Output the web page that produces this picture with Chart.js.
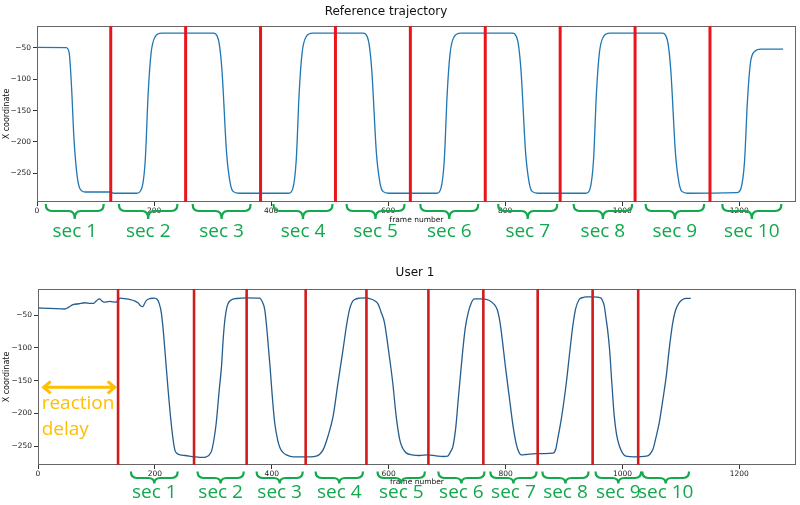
<!DOCTYPE html>
<html lang="en">
<head>
<meta charset="UTF-8">
<title>Reference trajectory / User 1</title>
<script src="https://cdn.jsdelivr.net/npm/chart.js"></script>
<style>
  body { margin: 0; background: #fff; }
  #wrap { position: relative; width: 800px; height: 505px; overflow: hidden; }
  #wrap canvas { position: absolute; left: 0; }
  #refChart { top: 0; }
  #userChart { top: 250px; }
</style>
</head>
<body>
<div id="wrap">
  <canvas id="refChart" width="800" height="250"></canvas>
  <canvas id="userChart" width="800" height="255"></canvas>
</div>
<script>
// axis ticks
const xTicks = [0, 200, 400, 600, 800, 1000, 1200];
const yTicks = [-50, -100, -150, -200, -250];

// reference trajectory (frame number, x coordinate)
const refFrames = [0, 50, 55, 59, 63, 68, 73, 82, 126, 130, 170, 179, 185, 190, 195, 202, 213,
  301, 310, 316, 324, 330, 335, 345, 430, 437, 443, 448, 453, 460, 471,
  557, 566, 572, 580, 586, 591, 601, 683, 690, 696, 701, 706, 713, 724,
  812, 821, 827, 835, 841, 846, 856, 938, 945, 951, 956, 961, 968, 979,
  1068, 1077, 1083, 1091, 1097, 1102, 1112, 1196, 1203, 1209, 1214, 1219, 1226, 1237, 1275];
const refX = [-49, -49.5, -58, -112, -192, -250, -274, -280, -280, -282, -282, -274, -229, -122, -58, -32, -26.5,
  -26.5, -37, -85, -218, -265, -279, -282, -282, -275, -229, -122, -58, -32, -26.5,
  -26.5, -37, -85, -218, -265, -279, -282, -282, -275, -229, -122, -58, -32, -26.5,
  -26.5, -37, -85, -218, -265, -279, -282, -282, -275, -229, -122, -58, -32, -26.5,
  -26.5, -37, -85, -218, -265, -279, -282, -281, -274, -232, -135, -75, -56, -52, -52];

// user 1 trajectory
const userFrames = [0, 20, 46, 52, 60, 70, 80, 90, 95, 100, 105, 109, 113, 123, 133, 137, 140, 150, 157, 165,
  171, 176, 179, 183, 186, 192, 199, 204, 207, 211, 214, 217, 223, 229, 234, 238, 243, 252, 268, 282,
  288, 293, 297, 301, 305, 310, 314, 317, 320, 324, 330, 340, 357, 379, 384, 388, 392, 397, 401, 405,
  410, 414, 420, 425, 437, 448, 466, 476, 482, 488, 496, 505, 513, 522, 528, 533, 537, 542, 550, 562,
  572, 578, 582, 587, 593, 600, 607, 613, 619, 624, 630, 640, 653, 667, 681, 694, 701, 706, 710, 715,
  719, 723, 727, 731, 736, 741, 747, 757, 767, 775, 781, 786, 790, 793, 800, 807, 813, 818, 822, 827,
  835, 852, 866, 881, 886, 889, 896, 904, 910, 915, 920, 926, 932, 938, 950, 963, 966, 969, 972, 975,
  978, 982, 986, 990, 995, 1000, 1006, 1020, 1041, 1047, 1052, 1057, 1063, 1069, 1075, 1080, 1086, 1091, 1097, 1103,
  1109, 1117];
const userX = [-39, -39.5, -40.5, -38, -34, -32.5, -31, -32, -32, -28, -25, -28, -30, -29, -30, -28, -24, -25, -26, -28,
  -31, -36, -37, -31, -27, -24.5, -24, -26, -31, -46, -70, -102, -168, -224, -255, -261, -263, -264, -266, -267,
  -266, -263, -257, -240, -214, -165, -128, -85, -55, -35, -27, -24.5, -23.6, -24, -30, -41.5, -75, -128, -175, -214,
  -240, -252, -260, -263, -266, -266, -266, -265, -262, -255, -235, -204, -155, -102, -65, -41.5, -31, -26, -24, -23.6,
  -26, -29, -33, -45, -62, -105, -153, -205, -240, -253, -260, -263, -264, -263, -264.5, -265.5, -265, -258, -250, -220,
  -179, -140, -102, -70, -46.5, -32, -25, -25, -26, -29, -34, -42, -58, -77, -130, -179, -220, -245, -257, -263,
  -262.5, -261, -261, -260.5, -254, -240, -205, -153, -105, -67, -40, -26, -23, -22, -22, -23.6, -28, -36, -55, -75,
  -102, -155, -204, -232, -250, -260, -265, -266, -265, -262, -255, -238, -214, -180, -143, -102, -62, -42, -31, -26,
  -24.3, -24.3];

// section boundaries (red lines) and brace spans, in frames
const refSplits = [126, 254, 382, 510, 638, 766, 894, 1022, 1150];
const userSplits = [137, 267, 357, 458, 562, 668, 762, 855, 949, 1027];
const secLabels = ['sec 1', 'sec 2', 'sec 3', 'sec 4', 'sec 5', 'sec 6', 'sec 7', 'sec 8', 'sec 9', 'sec 10'];
const refSecSpans = [[15, 114], [140, 240], [266, 365], [404, 505], [529, 628], [655, 754], [788, 889], [917, 1017], [1040, 1140], [1171, 1272]];
const userSecSpans = [[159, 239], [273, 352], [374, 453], [475, 556], [581, 662], [685, 764], [774, 853], [863, 942], [954, 1032], [1034, 1114]];
const delaySpan = [8, 133];
const delayLevel = -160;

const GREEN = '#12a84c';
const ORANGE = '#ffbf00';
const TICK_FONT = { family: 'DejaVu Sans', size: 7.5 };

function drawBrace(ctx, x1, x2, yTop, yMid, yTip) {
  const xm = (x1 + x2) / 2, r = 6;
  ctx.beginPath();
  ctx.moveTo(x1, yTop);
  ctx.quadraticCurveTo(x1, yMid, x1 + r, yMid);
  ctx.lineTo(xm - r, yMid);
  ctx.quadraticCurveTo(xm, yMid, xm, yTip);
  ctx.quadraticCurveTo(xm, yMid, xm + r, yMid);
  ctx.lineTo(x2 - r, yMid);
  ctx.quadraticCurveTo(x2, yMid, x2, yTop);
  ctx.stroke();
}

function overlay(o) {
  return {
    id: 'overlay',
    afterDatasetsDraw(chart) {
      const { ctx, chartArea: a, scales: { x } } = chart;
      ctx.save();
      ctx.strokeStyle = '#666';
      ctx.lineWidth = 1;
      ctx.strokeRect(a.left + 0.5, a.top + 0.5, a.right - a.left - 1, a.bottom - a.top - 1);
      ctx.strokeStyle = o.red;
      ctx.lineWidth = o.redWidth;
      o.splits.forEach(f => {
        const px = x.getPixelForValue(f);
        ctx.beginPath();
        ctx.moveTo(px, a.top);
        ctx.lineTo(px, a.bottom);
        ctx.stroke();
      });
      ctx.restore();
    },
    afterDraw(chart) {
      const { ctx, scales: { x, y } } = chart;
      ctx.save();
      ctx.fillStyle = '#111';
      ctx.font = '12px "DejaVu Sans"';
      ctx.textAlign = 'center';
      ctx.textBaseline = 'middle';
      ctx.fillText(o.title, o.titleX, o.titleY);

      ctx.strokeStyle = GREEN;
      ctx.fillStyle = GREEN;
      ctx.lineWidth = 2.2;
      ctx.font = '19px "Open Sans"';
      ctx.textBaseline = 'alphabetic';
      o.spans.forEach((s, i) => {
        const x1 = x.getPixelForValue(s[0]), x2 = x.getPixelForValue(s[1]);
        drawBrace(ctx, x1, x2, o.brace[0], o.brace[1], o.brace[2]);
        ctx.fillText(secLabels[i], (x1 + x2) / 2, o.textBase);
      });

      if (o.delay) {
        const x1 = x.getPixelForValue(delaySpan[0]), x2 = x.getPixelForValue(delaySpan[1]);
        const yy = y.getPixelForValue(delayLevel);
        ctx.strokeStyle = ORANGE;
        ctx.fillStyle = ORANGE;
        ctx.lineWidth = 3;
        ctx.beginPath();
        ctx.moveTo(x1, yy); ctx.lineTo(x2, yy);
        ctx.moveTo(x1 + 8, yy - 6); ctx.lineTo(x1 + 1, yy); ctx.lineTo(x1 + 8, yy + 6);
        ctx.moveTo(x2 - 8, yy - 6); ctx.lineTo(x2 - 1, yy); ctx.lineTo(x2 - 8, yy + 6);
        ctx.stroke();
        ctx.textAlign = 'left';
        ctx.fillText('reaction', x1 - 1, yy + 22);
        ctx.fillText('delay', x1 - 1, yy + 48);
      }
      ctx.restore();
    }
  };
}

function makeChart(id, frames, values, o) {
  return new Chart(document.getElementById(id), {
    type: 'line',
    data: {
      datasets: [{
        data: frames.map((f, i) => ({ x: f, y: values[i] })),
        borderColor: o.lineColor,
        borderWidth: 1.3,
        pointRadius: 0,
        fill: false,
        cubicInterpolationMode: 'monotone'
      }]
    },
    options: {
      responsive: false,
      animation: false,
      layout: { padding: { top: o.padTop, right: 4, bottom: 0, left: 0 } },
      plugins: { legend: { display: false }, title: { display: false }, tooltip: { enabled: false } },
      scales: {
        x: {
          type: 'linear', min: 0, max: 1297,
          afterBuildTicks: s => { s.ticks = xTicks.map(v => ({ value: v })); },
          afterFit: s => { s.height = o.xHeight; },
          grid: { drawOnChartArea: false, tickLength: 4, color: '#333' },
          border: { display: false },
          ticks: { font: TICK_FONT, color: '#222', padding: 1, maxRotation: 0, autoSkip: false, callback: v => String(v) },
          title: { display: true, text: 'frame number', color: '#111', font: { family: 'DejaVu Sans', size: 7.5 }, padding: { top: 0, bottom: o.xTitlePad } }
        },
        y: {
          min: o.yMin, max: o.yMax,
          afterBuildTicks: s => { s.ticks = yTicks.map(v => ({ value: v })); },
          afterFit: s => { s.width = o.yWidth; },
          grid: { drawOnChartArea: false, tickLength: 4, color: '#333' },
          border: { display: false },
          ticks: { font: TICK_FONT, color: '#222', padding: 2, callback: v => String(v).replace('-', '\u2212') },
          title: { display: true, text: 'X coordinate', color: '#111', font: { family: 'DejaVu Sans', size: 8 }, padding: { top: 2, bottom: 0 } }
        }
      }
    },
    plugins: [overlay(o)]
  });
}

makeChart('refChart', refFrames, refX, {
  title: 'Reference trajectory', titleX: 386, titleY: 12,
  lineColor: '#1f77b4', red: '#e8161c', redWidth: 3,
  splits: refSplits, spans: refSecSpans, brace: [204, 211, 219], textBase: 237,
  padTop: 26, xHeight: 48, yWidth: 37, xTitlePad: 25.5, yMin: -296, yMax: -15
});

makeChart('userChart', userFrames, userX, {
  title: 'User 1', titleX: 415, titleY: 23,
  lineColor: '#245d8e', red: '#d01c1c', redWidth: 2.6,
  splits: userSplits, spans: userSecSpans, brace: [221.5, 228, 233.5], textBase: 248,
  padTop: 39, xHeight: 40, yWidth: 38, xTitlePad: 18.5, yMin: -278.5, yMax: -10,
  delay: true
});
</script>
</body>
</html>
